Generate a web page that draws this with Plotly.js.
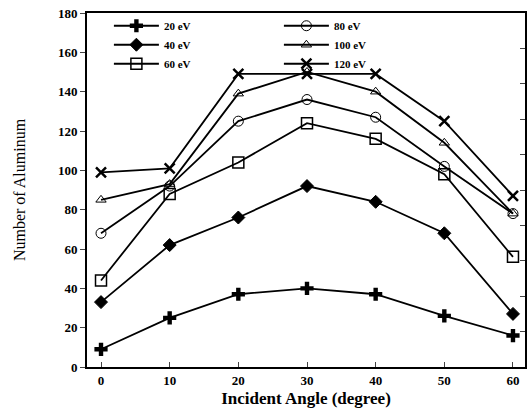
<!DOCTYPE html>
<html><head><meta charset="utf-8">
<script src="https://cdn.plot.ly/plotly-3.0.1.min.js"></script>
<style>html,body{margin:0;padding:0;background:#fff}#chart{width:527px;height:418px}</style>
</head><body><div id="chart"></div>
<script>
const angles = [0, 10, 20, 30, 40, 50, 60];
const e20  = [9, 25, 37, 40, 37, 26, 16];
const e40  = [33, 62, 76, 92, 84, 68, 27];
const e60  = [44, 88, 104, 124, 116, 98, 56];
const e80  = [68, 92, 125, 136, 127, 102, 78];
const e100 = [85, 93, 139, 150, 140, 114, 78];
const e120 = [99, 101, 149, 149, 149, 125, 87];
const names = ['20 eV', '80 eV', '40 eV', '100 eV', '60 eV', '120 eV'];
const yTicks = [0, 20, 40, 60, 80, 100, 120, 140, 160, 180];
const xTicks = [0, 10, 20, 30, 40, 50, 60];

function tr(name, y, sym, size, lw) {
  return {x: angles, y: y, name: name, type: 'scatter', mode: 'lines+markers',
    line: {color: '#000', width: 1.8},
    marker: {symbol: sym, size: size, color: '#000', line: {color: '#000', width: lw}}};
}
const data = [
  tr(names[0], e20, 'cross', 11, 0),
  tr(names[1], e80, 'circle-open', 10, 1),
  tr(names[2], e40, 'diamond', 10, 1),
  tr(names[3], e100, 'triangle-up-open', 9, 1),
  tr(names[4], e60, 'square-open', 11, 1.5),
  tr(names[5], e120, 'x-thin-open', 10, 2.5)
];
const serif = 'Liberation Serif, Times New Roman, serif';
const layout = {
  width: 527, height: 418,
  margin: {l: 87, r: 2, t: 13, b: 51},
  paper_bgcolor: '#fff', plot_bgcolor: '#fff',
  showlegend: true,
  legend: {orientation: 'h', x: 0.05, y: 1.005, xanchor: 'left', yanchor: 'top',
    entrywidth: 110, entrywidthmode: 'pixels', tracegroupgap: 0,
    font: {family: serif, size: 11, color: '#000', weight: 'bold'},
    bgcolor: 'rgba(0,0,0,0)', itemwidth: 45},
  xaxis: {range: [-2.04, 61.75], tickvals: xTicks, ticks: 'inside', ticklen: 5,
    showline: true, linecolor: '#000', linewidth: 2, mirror: true, showgrid: false, zeroline: false,
    tickfont: {family: serif, size: 13, color: '#000', weight: 'bold'},
    title: {text: 'Incident Angle (degree)', font: {family: serif, size: 17, color: '#000', weight: 'bold'}, standoff: 6}},
  yaxis: {range: [0, 180], tickvals: yTicks, ticks: 'outside', ticklen: 5,
    showline: true, linecolor: '#000', linewidth: 2, mirror: true, showgrid: false, zeroline: false,
    tickfont: {family: serif, size: 13, color: '#000', weight: 'bold'},
    title: {text: 'Number of Aluminum', font: {family: serif, size: 16, color: '#000'}, standoff: 28}},
  yaxis2: {overlaying: 'y', side: 'right', range: [0, 10], dtick: 1, ticks: 'inside', ticklen: 5,
    showticklabels: false, showgrid: false, zeroline: false, showline: false}
};
data.push({x: [angles[0]], y: [0], yaxis: 'y2', type: 'scatter', mode: 'markers', showlegend: false,
  hoverinfo: 'skip', marker: {opacity: 0}});
Plotly.newPlot('chart', data, layout, {displayModeBar: false, staticPlot: true});
</script></body></html>
